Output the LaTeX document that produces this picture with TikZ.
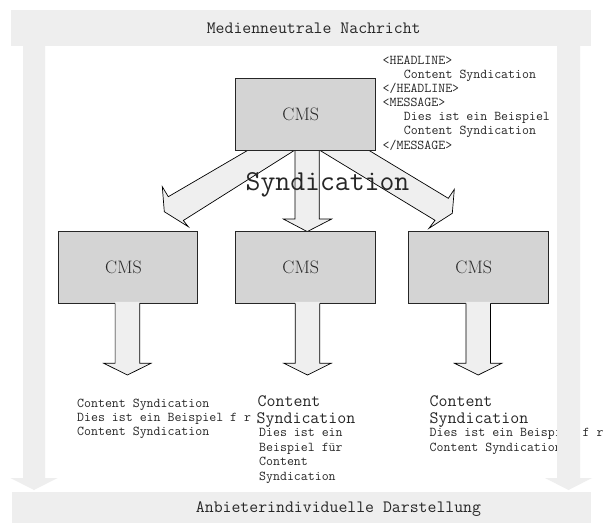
\documentclass[tikz,border=0pt]{standalone}
\usepackage{fontspec}
\definecolor{bandgrey}{HTML}{EEEEEE}
\definecolor{boxfill}{HTML}{D4D4D4}
\definecolor{arrfill}{HTML}{EFEFEF}
\definecolor{inkc}{HTML}{262626}
\begin{document}
\begin{tikzpicture}[x=1pt,y=-1pt,
  cmsbox/.style={draw=black!85, fill=boxfill, line width=0.8pt, minimum width=139.5pt, minimum height=71.6pt, inner sep=0pt},
  cmslbl/.style={font=\rmfamily\fontsize{18}{18}\selectfont, text=inkc, inner sep=0pt},
  small/.style={font=\ttfamily\fontsize{13.5}{13.5}\selectfont, text=inkc, inner sep=0pt, anchor=base west},
  mid/.style={font=\ttfamily\fontsize{17.4}{17.4}\selectfont, text=inkc, inner sep=0pt, anchor=base west},
  bandlbl/.style={font=\ttfamily\fontsize{17.3}{17.3}\selectfont, text=inkc, inner sep=0pt, anchor=base},
  arrline/.style={draw=black, line width=0.7pt, line join=miter},
]
\useasboundingbox (0,0) rectangle (605,523);
\fill[white] (0,0) rectangle (605,523);

% ---- XML text (top right)
\node[small] (x1) at (382.5,64)   {<HEADLINE>};
\node[small] (x2) at (403.7,78.2) {Content Syndication};
\node[small] (x3) at (382.5,92.3) {</HEADLINE>};
\node[small] (x4) at (382.5,106.5){<MESSAGE>};
\node[small] (x5) at (403.7,120.6){Dies ist ein Beispiel für};
\node[small] (x6) at (403.7,134.8){Content Syndication};
\node[small] (x7) at (382.5,149)  {</MESSAGE>};

% ---- lower texts
\node[small] (l1) at (77,407)   {Content Syndication};
\node[small] (l2) at (77,421.2) {Dies ist ein Beispiel f r};
\node[small] (l3) at (77,435.4) {Content Syndication};

\node[mid]   (c1) at (257.5,406.7) {Content};
\node[mid]   (c2) at (256.5,423.3) {Syndication};
\node[small] (c3) at (259,436.3)   {Dies ist ein};
\node[small] (c4) at (259,451)     {Beispiel für};
\node[small] (c5) at (259,465.7)   {Content};
\node[small] (c6) at (259,480.3)   {Syndication};

\node[mid]   (r1) at (429.5,406.7) {Content};
\node[mid]   (r2) at (429.5,423.3) {Syndication};
\node[small] (r3) at (429.5,436.3) {Dies ist ein Beispiel f r};
\node[small] (r4) at (429.5,451)   {Content Syndication};

% ---- side strips with arrow heads
\fill[bandgrey] (23,44) -- (23,478) -- (10.5,478) -- (34,490) -- (57.5,478) -- (45,478) -- (45,44) -- cycle;
\fill[bandgrey] (557,44) -- (557,478) -- (545,478) -- (568.5,490) -- (592,478) -- (580,478) -- (580,44) -- cycle;

% ---- bands
\fill[bandgrey] (11,10) rectangle (591,45.7);
\fill[bandgrey] (12,491.7) rectangle (591,523);
\node[bandlbl] (top) at (313.7,33.5) {Medienneutrale Nachricht};
\node[bandlbl] (bot) at (338.5,512) {Anbieterindividuelle Darstellung};

% ---- arrows from main CMS
\path[arrline, fill=arrfill] (248.3,150) -- (168.3,196.7) -- (162.3,186.7) -- (164.3,211.7) -- (188.3,226.7) -- (183.3,220.5) -- (295,150) -- cycle;
\path[arrline, fill=arrfill] (368.3,150) -- (448.3,198.3) -- (454.3,189.3) -- (452.3,213.3) -- (429,228.3) -- (435,220.3) -- (319.3,150) -- cycle;
\path[arrline, fill=arrfill] (295,150) -- (295,219) -- (283.3,219) -- (307.2,231.6) -- (331.7,219) -- (319.3,219) -- (319.3,150) -- cycle;

% ---- boxes
\node[cmsbox] (m0) at (305.25,114.15) {};
\node[cmsbox] (m1) at (128,267.5) {};
\node[cmsbox] (m2) at (305.25,267.5) {};
\node[cmsbox] (m3) at (478.25,267.5) {};
\node[cmslbl] (m0t) at ([xshift=-4.5pt]m0.center) {CMS};
\node[cmslbl] (m1t) at ([xshift=-4.5pt]m1.center) {CMS};
\node[cmslbl] (m2t) at ([xshift=-4.5pt]m2.center) {CMS};
\node[cmslbl] (m3t) at ([xshift=-4.5pt]m3.center) {CMS};

% ---- down arrows from lower boxes
\foreach \cx/\nm in {127.4/d1, 307.5/d2, 478.2/d3}{
  \fill[arrfill] (\cx-12.3,301.8) -- (\cx-12.3,363.3) -- (\cx-23.6,363.3) -- (\cx,375) -- (\cx+23.6,363.3) -- (\cx+12.3,363.3) -- (\cx+12.3,301.8) -- cycle;
  \draw[arrline] (\cx-12.3,303.3) -- (\cx-12.3,363.3) -- (\cx-23.6,363.3) -- (\cx,375) coordinate (\nm) -- (\cx+23.6,363.3) -- (\cx+12.3,363.3) -- (\cx+12.3,303.3);
}

% ---- big label
\node[font=\ttfamily\fontsize{28.9}{28.9}\selectfont, text=inkc, inner sep=0pt, anchor=base] (syn) at (327.5,190.5) {Syndication};
\end{tikzpicture}
\end{document}
